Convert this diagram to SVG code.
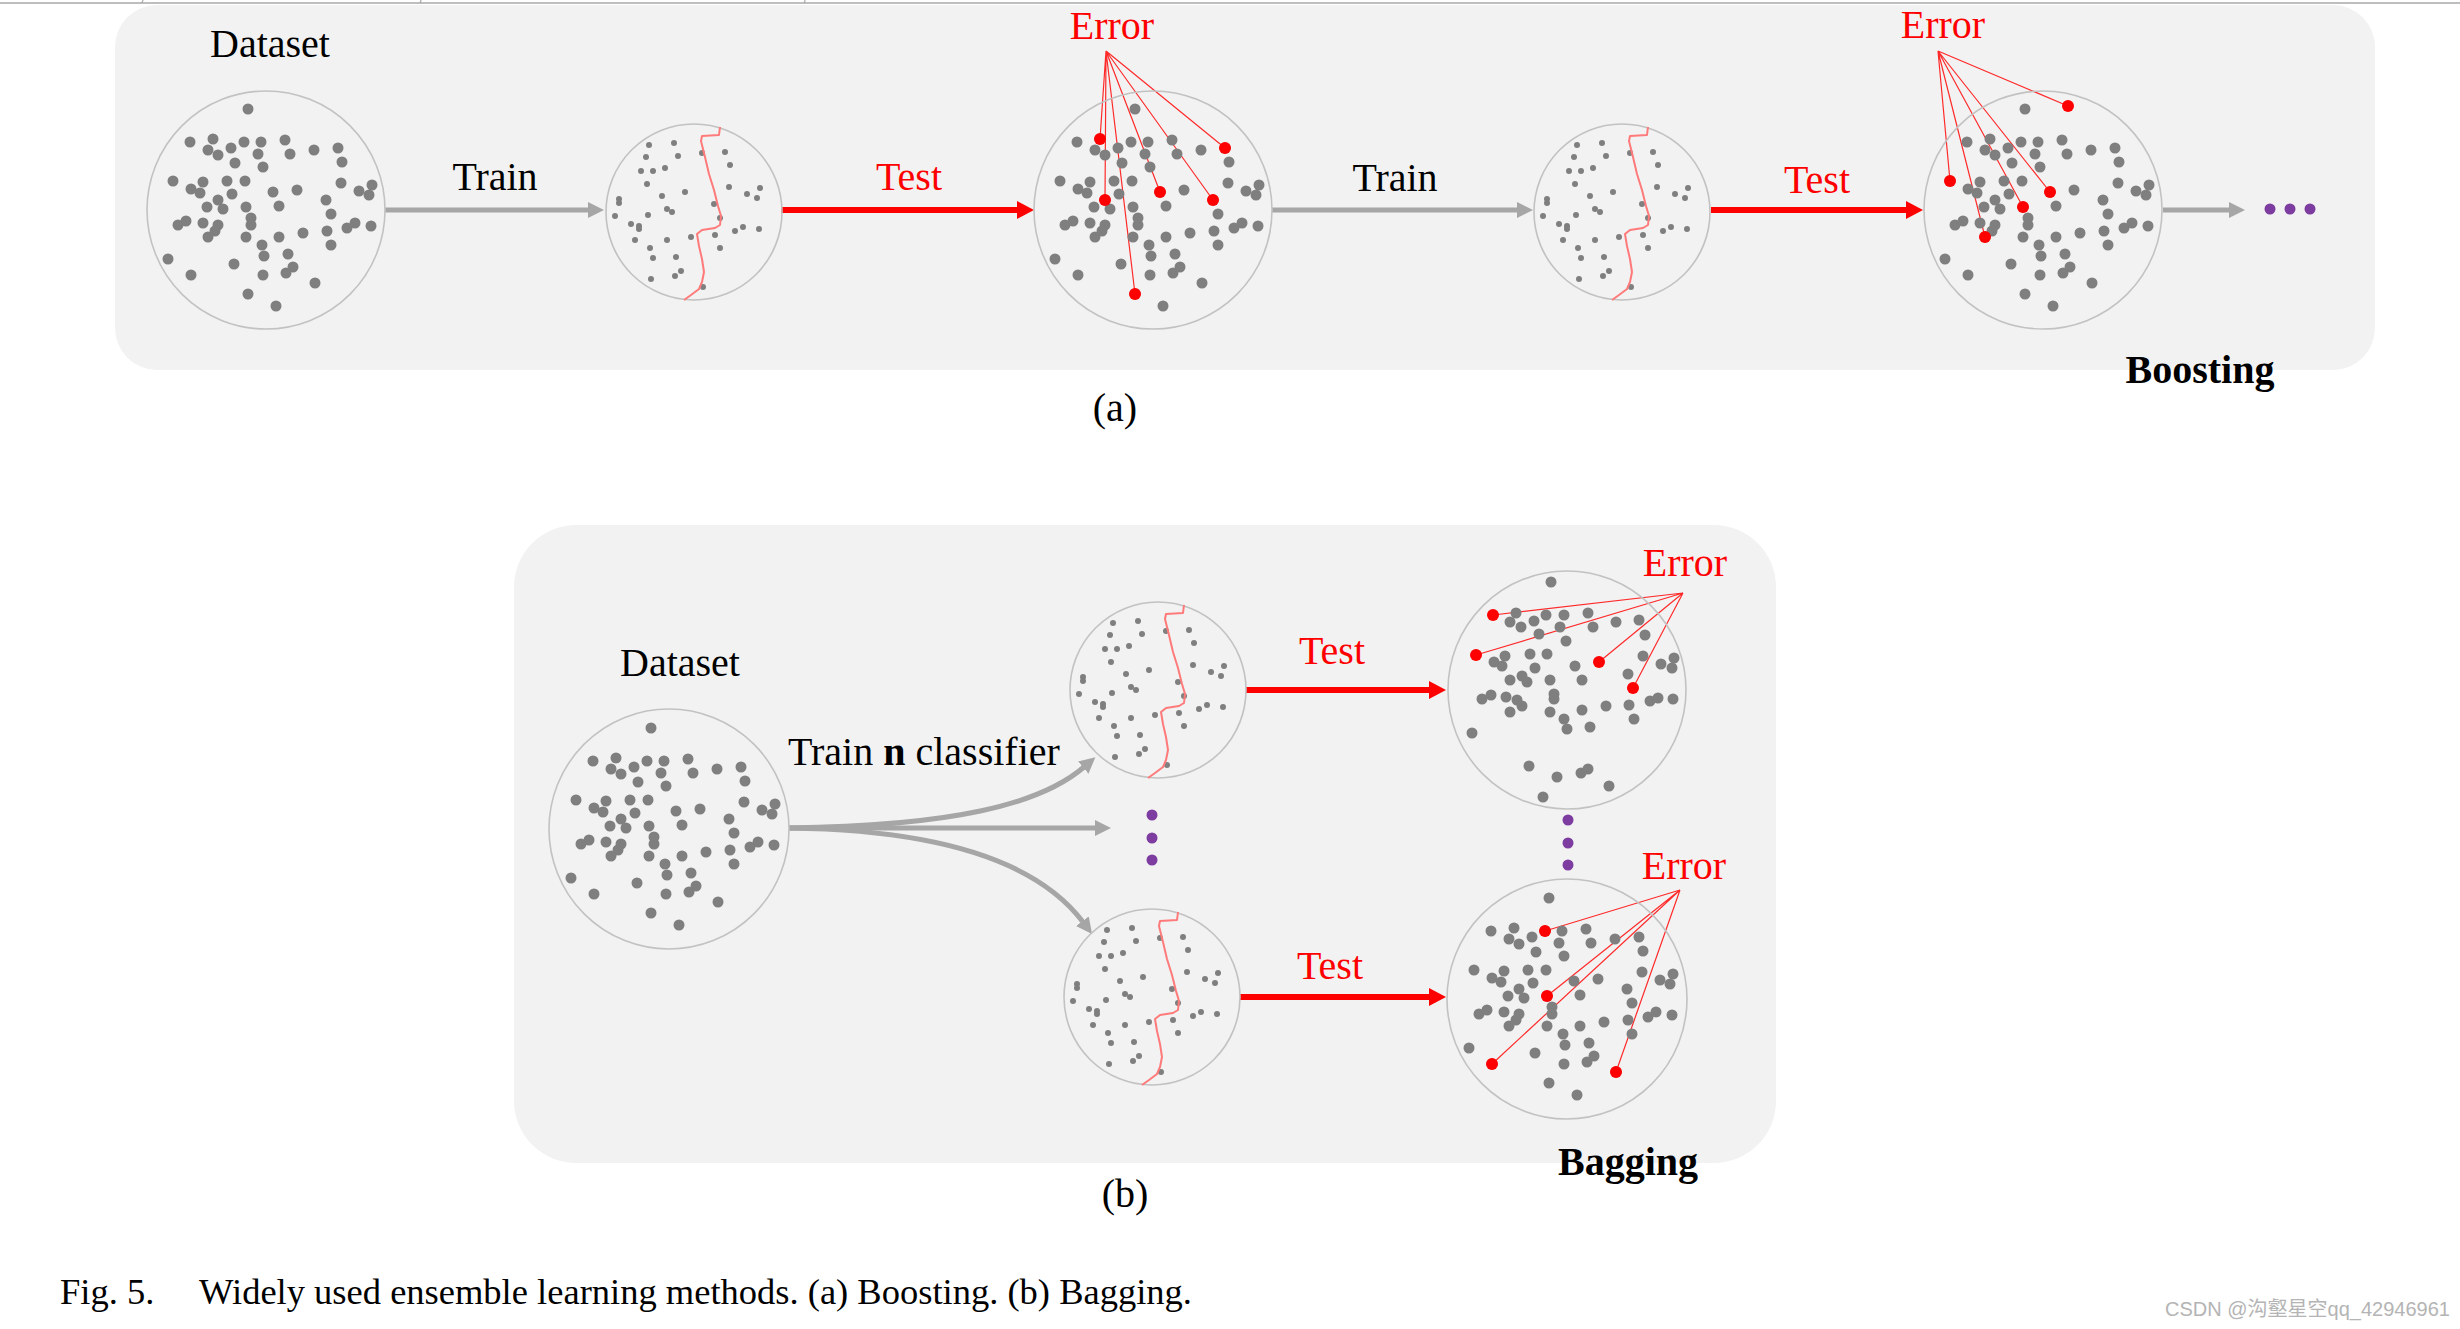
<svg xmlns="http://www.w3.org/2000/svg" xmlns:xlink="http://www.w3.org/1999/xlink" width="2460" height="1329" viewBox="0 0 2460 1329">
<style>
.t{font-family:"Liberation Serif","Times New Roman",serif;font-size:40px;fill:#000}
.red{fill:#ff0000}
.b{font-weight:bold}
.mid{text-anchor:middle}
.cap{font-family:"Liberation Serif","Times New Roman",serif;font-size:36.5px;fill:#000}
.wm{font-family:"Liberation Sans","Noto Sans CJK SC",sans-serif;font-size:20px;fill:#b4b4b4}
.panel{fill:#f2f2f2}
.ring{fill:none;stroke:#c2c2c2;stroke-width:1.6}
.d{fill:#7f7f7f}
.rd{fill:#ff0000}
.pd{fill:#7d3c9f}
.bd{fill:none;stroke:#ff7a7a;stroke-width:2;stroke-linejoin:round}
.ga{fill:none;stroke:#a6a6a6;stroke-width:5}
.ra{fill:none;stroke:#ff0000;stroke-width:6}
.el{stroke:#ff2a2a;stroke-width:1.2;fill:none}
</style>
<defs>
<marker id="hg" viewBox="0 -8 16 16" refX="1" refY="0" markerWidth="16" markerHeight="16" markerUnits="userSpaceOnUse" orient="auto"><path d="M0,-8 L16,0 L0,8 z" fill="#a6a6a6"/></marker>
<marker id="hr" viewBox="0 -9 17 18" refX="1" refY="0" markerWidth="17" markerHeight="18" markerUnits="userSpaceOnUse" orient="auto"><path d="M0,-9 L17,0 L0,9 z" fill="#ff0000"/></marker>
<g id="bigDots" class="d">
<circle cx="-18" cy="-101" r="5.5"/><circle cx="-76" cy="-68" r="5.5"/><circle cx="-53" cy="-71" r="5.5"/><circle cx="-58" cy="-60" r="5.5"/><circle cx="-48" cy="-55" r="5.5"/><circle cx="-35" cy="-62" r="5.5"/><circle cx="-22" cy="-68" r="5.5"/><circle cx="-5" cy="-68" r="5.5"/><circle cx="-8" cy="-56" r="5.5"/><circle cx="19" cy="-70" r="5.5"/><circle cx="24" cy="-56" r="5.5"/><circle cx="48" cy="-60" r="5.5"/><circle cx="72" cy="-62" r="5.5"/><circle cx="76" cy="-48" r="5.5"/><circle cx="-31" cy="-47" r="5.5"/><circle cx="-3" cy="-43" r="5.5"/>
<circle cx="-93" cy="-29" r="5.5"/><circle cx="-63" cy="-28" r="5.5"/><circle cx="-75" cy="-21" r="5.5"/><circle cx="-66" cy="-17" r="5.5"/><circle cx="-39" cy="-29" r="5.5"/><circle cx="-21" cy="-29" r="5.5"/><circle cx="-34" cy="-16" r="5.5"/><circle cx="7" cy="-18" r="5.5"/><circle cx="31" cy="-20" r="5.5"/><circle cx="75" cy="-27" r="5.5"/><circle cx="93" cy="-19" r="5.5"/><circle cx="106" cy="-25" r="5.5"/><circle cx="103" cy="-15" r="5.5"/>
<circle cx="-48" cy="-10" r="5.5"/><circle cx="-59" cy="-3" r="5.5"/><circle cx="-43" cy="-1" r="5.5"/><circle cx="-20" cy="-3" r="5.5"/><circle cx="13" cy="-4" r="5.5"/><circle cx="60" cy="-10" r="5.5"/><circle cx="65" cy="4" r="5.5"/>
<circle cx="-88" cy="15" r="5.5"/><circle cx="-80" cy="11" r="5.5"/><circle cx="-63" cy="13" r="5.5"/><circle cx="-48" cy="15" r="5.5"/><circle cx="-51" cy="21" r="5.5"/><circle cx="-58" cy="27" r="5.5"/><circle cx="-15" cy="8" r="5.5"/><circle cx="-15" cy="15" r="5.5"/><circle cx="-20" cy="27" r="5.5"/><circle cx="13" cy="27" r="5.5"/><circle cx="37" cy="23" r="5.5"/><circle cx="61" cy="21" r="5.5"/><circle cx="81" cy="18" r="5.5"/><circle cx="89" cy="13" r="5.5"/><circle cx="105" cy="16" r="5.5"/>
<circle cx="65" cy="35" r="5.5"/><circle cx="-4" cy="35" r="5.5"/><circle cx="-2" cy="46" r="5.5"/><circle cx="22" cy="44" r="5.5"/><circle cx="-98" cy="49" r="5.5"/><circle cx="-32" cy="54" r="5.5"/><circle cx="20" cy="63" r="5.5"/><circle cx="27" cy="57" r="5.5"/><circle cx="-3" cy="65" r="5.5"/><circle cx="-75" cy="65" r="5.5"/><circle cx="49" cy="73" r="5.5"/><circle cx="-18" cy="84" r="5.5"/><circle cx="10" cy="96" r="5.5"/>
</g>
<g id="bagDots" class="d">
<circle cx="-16" cy="-108" r="5.5"/><circle cx="-51" cy="-77" r="5.5"/><circle cx="-57" cy="-68" r="5.5"/><circle cx="-46" cy="-63" r="5.5"/><circle cx="-33" cy="-69" r="5.5"/><circle cx="-21" cy="-75" r="5.5"/><circle cx="-3" cy="-75" r="5.5"/><circle cx="-7" cy="-63" r="5.5"/><circle cx="21" cy="-77" r="5.5"/><circle cx="26" cy="-63" r="5.5"/><circle cx="49" cy="-68" r="5.5"/><circle cx="72" cy="-70" r="5.5"/><circle cx="78" cy="-55" r="5.5"/><circle cx="-28" cy="-56" r="5.5"/><circle cx="-1" cy="-49" r="5.5"/>
<circle cx="-73" cy="-28" r="5.5"/><circle cx="-62" cy="-34" r="5.5"/><circle cx="-65" cy="-24" r="5.5"/><circle cx="-37" cy="-36" r="5.5"/><circle cx="-20" cy="-36" r="5.5"/><circle cx="-32" cy="-22" r="5.5"/><circle cx="8" cy="-24" r="5.5"/><circle cx="76" cy="-34" r="5.5"/><circle cx="94" cy="-26" r="5.5"/><circle cx="107" cy="-32" r="5.5"/><circle cx="105" cy="-22" r="5.5"/>
<circle cx="-57" cy="-10" r="5.5"/><circle cx="-45" cy="-14" r="5.5"/><circle cx="-40" cy="-8" r="5.5"/><circle cx="-17" cy="-10" r="5.5"/><circle cx="15" cy="-10" r="5.5"/><circle cx="61" cy="-16" r="5.5"/>
<circle cx="-85" cy="9" r="5.5"/><circle cx="-76" cy="5" r="5.5"/><circle cx="-61" cy="7" r="5.5"/><circle cx="-50" cy="10" r="5.5"/><circle cx="-45" cy="16" r="5.5"/><circle cx="-57" cy="22" r="5.5"/><circle cx="-13" cy="4" r="5.5"/><circle cx="-13" cy="9" r="5.5"/><circle cx="-17" cy="22" r="5.5"/><circle cx="15" cy="20" r="5.5"/><circle cx="39" cy="16" r="5.5"/><circle cx="62" cy="15" r="5.5"/><circle cx="67" cy="29" r="5.5"/><circle cx="83" cy="11" r="5.5"/><circle cx="91" cy="8" r="5.5"/><circle cx="106" cy="9" r="5.5"/>
<circle cx="-3" cy="29" r="5.5"/><circle cx="0" cy="39" r="5.5"/><circle cx="23" cy="37" r="5.5"/><circle cx="-95" cy="43" r="5.5"/><circle cx="-38" cy="76" r="5.5"/><circle cx="-10" cy="87" r="5.5"/><circle cx="14" cy="83" r="5.5"/><circle cx="21" cy="79" r="5.5"/><circle cx="42" cy="96" r="5.5"/><circle cx="-24" cy="107" r="5.5"/>
</g>
<g id="smallDots">
<g class="d">
<circle cx="-45" cy="-67" r="3"/><circle cx="-20" cy="-69" r="3"/><circle cx="-48" cy="-55" r="3"/><circle cx="-16" cy="-56" r="3"/><circle cx="8" cy="-59" r="3"/><circle cx="31" cy="-60" r="3"/><circle cx="-53" cy="-41" r="3"/><circle cx="-41" cy="-41" r="3"/><circle cx="-29" cy="-44" r="3"/><circle cx="36" cy="-47" r="3"/><circle cx="-47" cy="-28" r="3"/><circle cx="-9" cy="-20" r="3"/><circle cx="-32" cy="-16" r="3"/><circle cx="35" cy="-25" r="3"/><circle cx="53" cy="-18" r="3"/><circle cx="66" cy="-24" r="3"/><circle cx="63" cy="-14" r="3"/>
<circle cx="-75" cy="-13" r="3"/><circle cx="-75" cy="-9" r="3"/><circle cx="-27" cy="-3" r="3"/><circle cx="-22" cy="0" r="3"/><circle cx="20" cy="-8" r="3"/><circle cx="-79" cy="4" r="3"/><circle cx="-46" cy="3" r="3"/><circle cx="26" cy="6" r="3"/><circle cx="-63" cy="12" r="3"/><circle cx="-55" cy="14" r="3"/><circle cx="-55" cy="17" r="3"/><circle cx="-3" cy="25" r="3"/><circle cx="21" cy="23" r="3"/><circle cx="41" cy="19" r="3"/><circle cx="49" cy="15" r="3"/><circle cx="65" cy="17" r="3"/>
<circle cx="-59" cy="28" r="3"/><circle cx="-27" cy="28" r="3"/><circle cx="-44" cy="36" r="3"/><circle cx="26" cy="36" r="3"/><circle cx="-18" cy="45" r="3"/><circle cx="-41" cy="46" r="3"/><circle cx="-13" cy="59" r="3"/><circle cx="-19" cy="64" r="3"/><circle cx="-43" cy="67" r="3"/><circle cx="9" cy="75" r="3"/>
</g>
<path class="bd" d="M26,-85 L25,-77 L8,-76 L7,-71 L11,-55 L15,-38 L20,-22 L24,-6 L27,4 L26,13 L21,16 L8,18 L3,22 L5,34 L8,47 L10,60 L8,70 L5,77 L-3,83 L-10,88"/>
</g>
</defs>

<rect x="0" y="0" width="2460" height="1329" fill="#ffffff"/>
<g id="chrome">
<line x1="0" y1="3" x2="2460" y2="3" stroke="#a8a8a8" stroke-width="1.5"/>
<path d="M141,3 Q143,2 143,0 M420,3 Q421,1 421,0 M804,3 Q805,2 805,0" stroke="#a8a8a8" stroke-width="1.2" fill="none"/>
</g>

<g id="panel-a"><rect class="panel" x="115" y="5" width="2260" height="365" rx="42" ry="42"/></g>
<g id="panel-b"><rect class="panel" x="514" y="525" width="1262" height="638" rx="62" ry="62"/></g>

<g id="connectors">
<path class="ga" d="M385,210 L589,210" marker-end="url(#hg)"/>
<path class="ra" d="M781,210 L1018,210" marker-end="url(#hr)"/>
<path class="ga" d="M1272,210 L1518,210" marker-end="url(#hg)"/>
<path class="ra" d="M1711,210 L1907,210" marker-end="url(#hr)"/>
<path class="ga" d="M2163,210 L2230,210" marker-end="url(#hg)"/>
<path class="ga" d="M789,828 C950,826 1040,805 1084,767" marker-end="url(#hg)"/>
<path class="ga" d="M789,828 L1096,828" marker-end="url(#hg)"/>
<path class="ga" d="M789,828 C950,830 1040,865 1083,922" marker-end="url(#hg)"/>
<path class="ra" d="M1246,690 L1430,690" marker-end="url(#hr)"/>
<path class="ra" d="M1240,997 L1430,997" marker-end="url(#hr)"/>
<g id="error-links" class="el">
<path d="M1106,51 L1100,139 M1106,51 L1225,148 M1106,51 L1105,200 M1106,51 L1160,192 M1106,51 L1213,200 M1106,51 L1135,294"/>
<path d="M1938,51 L2068,106 M1938,51 L1950,181 M1938,51 L2050,192 M1938,51 L2023,207 M1938,51 L1985,237"/>
<path d="M1683,593 L1493,615 M1683,593 L1476,655 M1683,593 L1599,662 M1683,593 L1633,688"/>
<path d="M1680,890 L1545,931 M1680,890 L1547,996 M1680,890 L1492,1064 M1680,890 L1616,1072"/>
</g>
</g>

<g id="a-dataset">
<text class="t mid" x="270" y="57">Dataset</text>
<circle class="ring" cx="266" cy="210" r="119"/>
<use xlink:href="#bigDots" href="#bigDots" transform="translate(266,210)"/>
</g>
<g id="a-classifier1">
<circle class="ring" cx="694" cy="212" r="88"/>
<use xlink:href="#smallDots" href="#smallDots" transform="translate(694,212)"/>
</g>
<g id="a-test1">
<circle class="ring" cx="1153" cy="210" r="119"/>
<use xlink:href="#bigDots" href="#bigDots" transform="translate(1153,210)"/>
<g class="rd"><circle cx="1100" cy="139" r="6"/><circle cx="1225" cy="148" r="6"/><circle cx="1105" cy="200" r="6"/><circle cx="1160" cy="192" r="6"/><circle cx="1213" cy="200" r="6"/><circle cx="1135" cy="294" r="6"/></g>
<text class="t red mid" x="1112" y="39">Error</text>
</g>
<g id="a-classifier2">
<circle class="ring" cx="1622" cy="212" r="88"/>
<use xlink:href="#smallDots" href="#smallDots" transform="translate(1622,212)"/>
</g>
<g id="a-test2">
<circle class="ring" cx="2043" cy="210" r="119"/>
<use xlink:href="#bigDots" href="#bigDots" transform="translate(2043,210)"/>
<g class="rd"><circle cx="2068" cy="106" r="6"/><circle cx="1950" cy="181" r="6"/><circle cx="2050" cy="192" r="6"/><circle cx="2023" cy="207" r="6"/><circle cx="1985" cy="237" r="6"/></g>
<text class="t red mid" x="1943" y="38">Error</text>
</g>
<g id="a-more" class="pd"><circle cx="2270" cy="209" r="5.5"/><circle cx="2290" cy="209" r="5.5"/><circle cx="2310" cy="209" r="5.5"/></g>
<g id="a-labels">
<text class="t mid" x="495" y="190">Train</text>
<text class="t red mid" x="909" y="190">Test</text>
<text class="t mid" x="1395" y="191">Train</text>
<text class="t red mid" x="1817" y="193">Test</text>
<text class="t b mid" x="2200" y="383">Boosting</text>
<text class="t mid" x="1115" y="421">(a)</text>
</g>

<g id="b-dataset">
<text class="t mid" x="680" y="676">Dataset</text>
<circle class="ring" cx="669" cy="829" r="120"/>
<use xlink:href="#bigDots" href="#bigDots" transform="translate(669,829)"/>
</g>
<g id="b-classifier1">
<circle class="ring" cx="1158" cy="690" r="88"/>
<use xlink:href="#smallDots" href="#smallDots" transform="translate(1158,690)"/>
</g>
<g id="b-classifiern">
<circle class="ring" cx="1152" cy="997" r="88"/>
<use xlink:href="#smallDots" href="#smallDots" transform="translate(1152,997)"/>
</g>
<g id="b-more1" class="pd"><circle cx="1152" cy="815" r="5.5"/><circle cx="1152" cy="838" r="5.5"/><circle cx="1152" cy="860" r="5.5"/></g>
<g id="b-test1">
<circle class="ring" cx="1567" cy="690" r="119"/>
<use xlink:href="#bagDots" href="#bagDots" transform="translate(1567,690)"/>
<g class="rd"><circle cx="1493" cy="615" r="6"/><circle cx="1476" cy="655" r="6"/><circle cx="1599" cy="662" r="6"/><circle cx="1633" cy="688" r="6"/></g>
<text class="t red mid" x="1685" y="576">Error</text>
</g>
<g id="b-testn">
<circle class="ring" cx="1567" cy="999" r="120"/>
<use xlink:href="#bigDots" href="#bigDots" transform="translate(1567,999)"/>
<g class="rd"><circle cx="1545" cy="931" r="6"/><circle cx="1547" cy="996" r="6"/><circle cx="1492" cy="1064" r="6"/><circle cx="1616" cy="1072" r="6"/></g>
<text class="t red mid" x="1684" y="879">Error</text>
</g>
<g id="b-more2" class="pd"><circle cx="1568" cy="820" r="5.5"/><circle cx="1568" cy="843" r="5.5"/><circle cx="1568" cy="865" r="5.5"/></g>
<g id="b-labels">
<text class="t" x="788" y="765">Train <tspan class="b">n</tspan> classifier</text>
<text class="t red mid" x="1332" y="664">Test</text>
<text class="t red mid" x="1330" y="979">Test</text>
<text class="t b mid" x="1628" y="1175">Bagging</text>
<text class="t mid" x="1125" y="1207">(b)</text>
</g>

<g id="caption">
<text class="cap" x="60" y="1304">Fig. 5.</text>
<text class="cap" x="199" y="1304">Widely used ensemble learning methods. (a) Boosting. (b) Bagging.</text>
</g>
<text class="wm" x="2165" y="1316">CSDN @沟壑星空qq_42946961</text>
</svg>
